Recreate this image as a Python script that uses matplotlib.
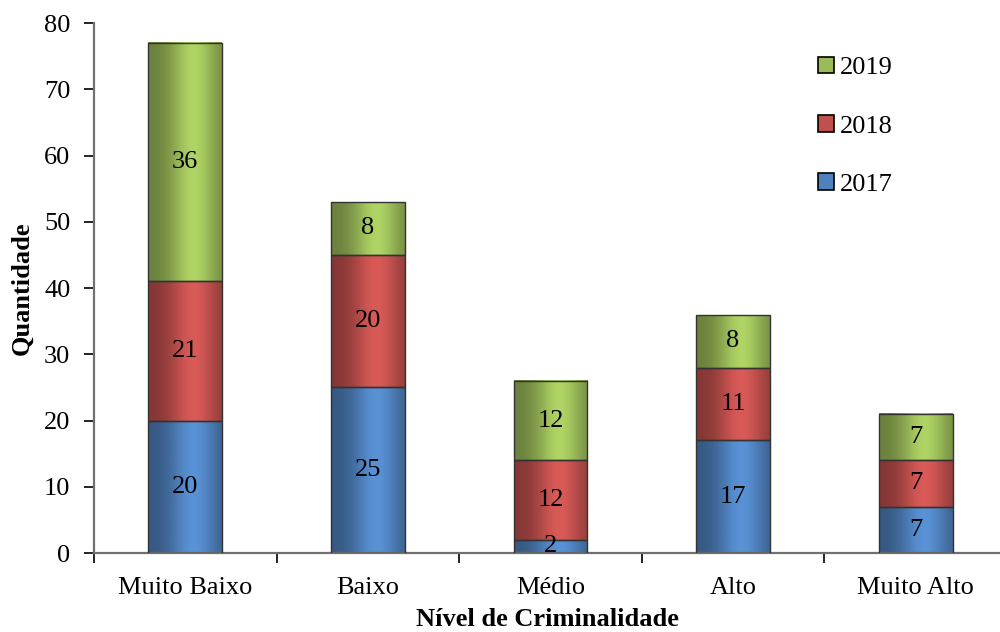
import numpy as np
import matplotlib
matplotlib.use('Agg')
import matplotlib.pyplot as plt
from matplotlib.colors import to_rgb
from matplotlib.patches import Patch

categories = ['Muito Baixo', 'Baixo', 'Médio', 'Alto', 'Muito Alto']
v2017 = [20, 25, 2, 17, 7]
v2018 = [21, 20, 12, 11, 7]
v2019 = [36, 8, 12, 8, 7]
years = ['2017', '2018', '2019']
colors = ['#4F81BD', '#C0504D', '#9BBB59']
yticks = [0, 10, 20, 30, 40, 50, 60, 70, 80]

FS = 19
plt.rcParams['font.family'] = ['Liberation Serif', 'DejaVu Serif']
fig = plt.figure(figsize=(10, 6.32), dpi=100)
ax = fig.add_axes([0.094, 0.125, 0.913, 0.8386])

x = np.arange(len(categories))
width = 0.405
bottom = np.zeros(len(categories))

t = np.linspace(0, 1, 64)
profile = 0.68 + 0.45 * np.exp(-((t - 0.62) / 0.32) ** 2)

for vals, c, lab in zip([v2017, v2018, v2019], colors, years):
    vals = np.array(vals, dtype=float)
    bars = ax.bar(x, vals, width, bottom=bottom, color=c, linewidth=0, zorder=2)
    base = np.array(to_rgb(c))
    grad = np.clip(base[None, :] * profile[:, None], 0, 1)
    for b, v in zip(bars, vals):
        x0 = b.get_x(); x1 = x0 + b.get_width()
        y0 = b.get_y(); y1 = y0 + b.get_height()
        ax.imshow(grad[None, :, :], extent=[x0, x1, y0, y1], aspect='auto',
                  interpolation='bilinear', zorder=2.5)
        ax.text((x0 + x1) / 2, (y0 + y1) / 2, f'{int(v)}', ha='center', va='center',
                fontsize=FS, zorder=4, color='black')
    ax.bar(x, vals, width, bottom=bottom, fill=False, edgecolor='#333333',
           linewidth=1.0, zorder=3)
    bottom += vals

ax.set_xlim(-0.5, len(categories) - 0.5)
ax.set_ylim(0, 80)
ax.set_yticks(yticks)
ax.set_yticklabels([str(v) for v in yticks], fontsize=FS)
ax.set_xticks(np.arange(len(categories) + 1) - 0.5, minor=False)
ax.set_xticklabels([''] * (len(categories) + 1))
ax.set_xticks(x, minor=True)
ax.set_xticklabels(categories, minor=True, fontsize=FS)
ax.tick_params(axis='x', which='minor', length=0, pad=17)
ax.tick_params(axis='x', which='major', length=7, direction='out', color='black', width=1.2)
ax.tick_params(axis='y', length=7, direction='out', color='black', width=1.2, pad=10)

for s in ['top', 'right']:
    ax.spines[s].set_visible(False)
for s in ['left', 'bottom']:
    ax.spines[s].set_color('#707070')
    ax.spines[s].set_linewidth(1.6)

ax.set_ylabel('Quantidade', fontsize=FS, fontweight='bold', va='center')
ax.yaxis.set_label_coords(-0.079, 0.5)
ax.set_xlabel('Nível de Criminalidade', fontsize=FS, fontweight='bold', va='center')
ax.xaxis.set_label_coords(0.497, -0.126)

handles = [Patch(facecolor=c, edgecolor='black', linewidth=1.2) for c in colors][::-1]
labels = years[::-1]
fig.legend(handles, labels, loc='upper left', bbox_to_anchor=(0.794, 0.948),
           frameon=False, fontsize=FS, labelspacing=1.35, handlelength=0.6,
           handleheight=0.6, handletextpad=0.25)

fig.savefig('out.png', dpi=100)
